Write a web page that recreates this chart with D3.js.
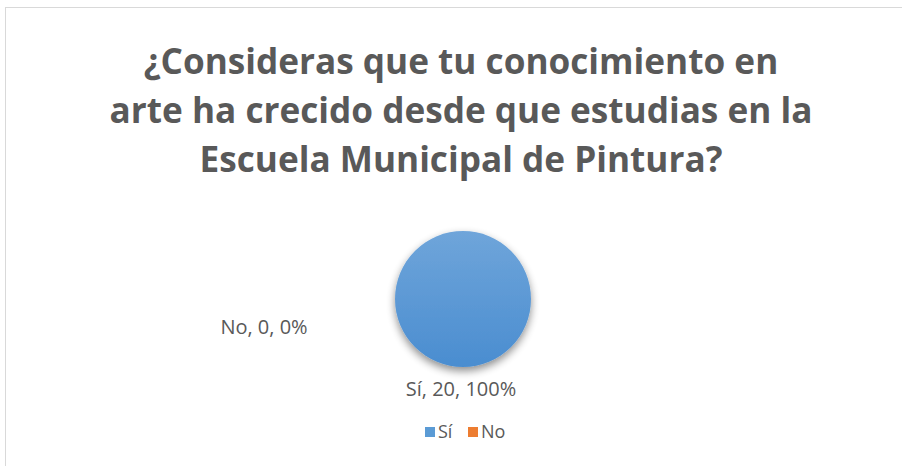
<!DOCTYPE html>
<html>
<head>
<meta charset="utf-8">
<script src="https://cdn.jsdelivr.net/npm/d3@7"></script>
<style>
  body { margin: 0; background: #fff; }
  text { font-family: "Open Sans", "Noto Sans", sans-serif; fill: #595959; }
</style>
</head>
<body>
<div class="chart"></div>
<script>
let width = 902
let height = 466

// data
let categories = ["Sí", "No"]
let values = [20, 0]
let colors = ["#5B9BD5", "#ED7D31"]
let titleLines = [
  "¿Consideras que tu conocimiento en",
  "arte ha crecido desde que estudias en la",
  "Escuela Municipal de Pintura?"
]

let total = d3.sum(values)
let data = categories.map((c, i) => ({ name: c, value: values[i], pct: values[i] / total }))

let svg = d3.select(".chart")
  .append("svg")
  .attr("width", width)
  .attr("height", height)

let defs = svg.append("defs")
let grad = defs.append("linearGradient")
  .attr("id", "blueGrad")
  .attr("x1", 0).attr("y1", 0).attr("x2", 0).attr("y2", 1)
grad.append("stop").attr("offset", "0%").attr("stop-color", "#6fa5da")
grad.append("stop").attr("offset", "100%").attr("stop-color", "#4a8dd0")

let shadow = defs.append("filter")
  .attr("id", "shadow")
  .attr("x", "-30%").attr("y", "-30%").attr("width", "160%").attr("height", "160%")
shadow.append("feGaussianBlur").attr("in", "SourceAlpha").attr("stdDeviation", 4)
shadow.append("feOffset").attr("dx", 0).attr("dy", 4).attr("result", "blur")
shadow.append("feComponentTransfer").append("feFuncA").attr("type", "linear").attr("slope", 0.45)
let merge = shadow.append("feMerge")
merge.append("feMergeNode")
merge.append("feMergeNode").attr("in", "SourceGraphic")

// chart border
svg.append("rect")
  .attr("x", 5.5).attr("y", 7.5)
  .attr("width", 920).attr("height", 480)
  .attr("fill", "#fff")
  .attr("stroke", "#d9d9d9")

// title
let title = svg.append("text")
  .attr("text-anchor", "middle")
  .style("font-weight", "bold")
  .style("font-size", "32px")
title.selectAll("tspan")
  .data(titleLines)
  .enter()
  .append("tspan")
  .attr("x", 461)
  .attr("y", (d, i) => 74 + i * 49)
  .text(d => d)

// fit title to the width of the widest line in the picture
let longest = title.selectAll("tspan").nodes()[1].getComputedTextLength()
title.style("font-size", (32 * 703 / longest) + "px")

// pie
let cx = 463, cy = 299, r = 68
let pie = d3.pie().sort(null).value(d => d.value)
let arc = d3.arc().innerRadius(0).outerRadius(r)
let arcs = pie(data)

let g = svg.append("g").attr("transform", `translate(${cx},${cy})`)
g.selectAll("path")
  .data(arcs.filter(d => d.data.value > 0))
  .enter()
  .append("path")
  .attr("d", arc)
  .attr("fill", (d, i) => i === 0 ? "url(#blueGrad)" : colors[d.index])
  .attr("filter", "url(#shadow)")

// data labels
let fmt = d => `${d.data.name}, ${d.data.value}, ${Math.round(d.data.pct * 100)}%`
let labelPos = [[-2, 97], [-199, 35]]
g.selectAll("text.lbl")
  .data(arcs)
  .enter()
  .append("text")
  .attr("class", "lbl")
  .attr("x", (d, i) => labelPos[i][0])
  .attr("y", (d, i) => labelPos[i][1])
  .attr("text-anchor", "middle")
  .style("font-size", "20px")
  .text(fmt)

// legend
let legend = svg.append("g").attr("transform", "translate(425,427)")
let items = legend.selectAll("g")
  .data(data)
  .enter()
  .append("g")
  .attr("transform", (d, i) => `translate(${i * 43},0)`)
items.append("rect")
  .attr("width", 10).attr("height", 10)
  .attr("fill", (d, i) => colors[i])
items.append("text")
  .attr("x", 13).attr("y", 11)
  .style("font-size", "18px")
  .text(d => d.name)
</script>
</body>
</html>
